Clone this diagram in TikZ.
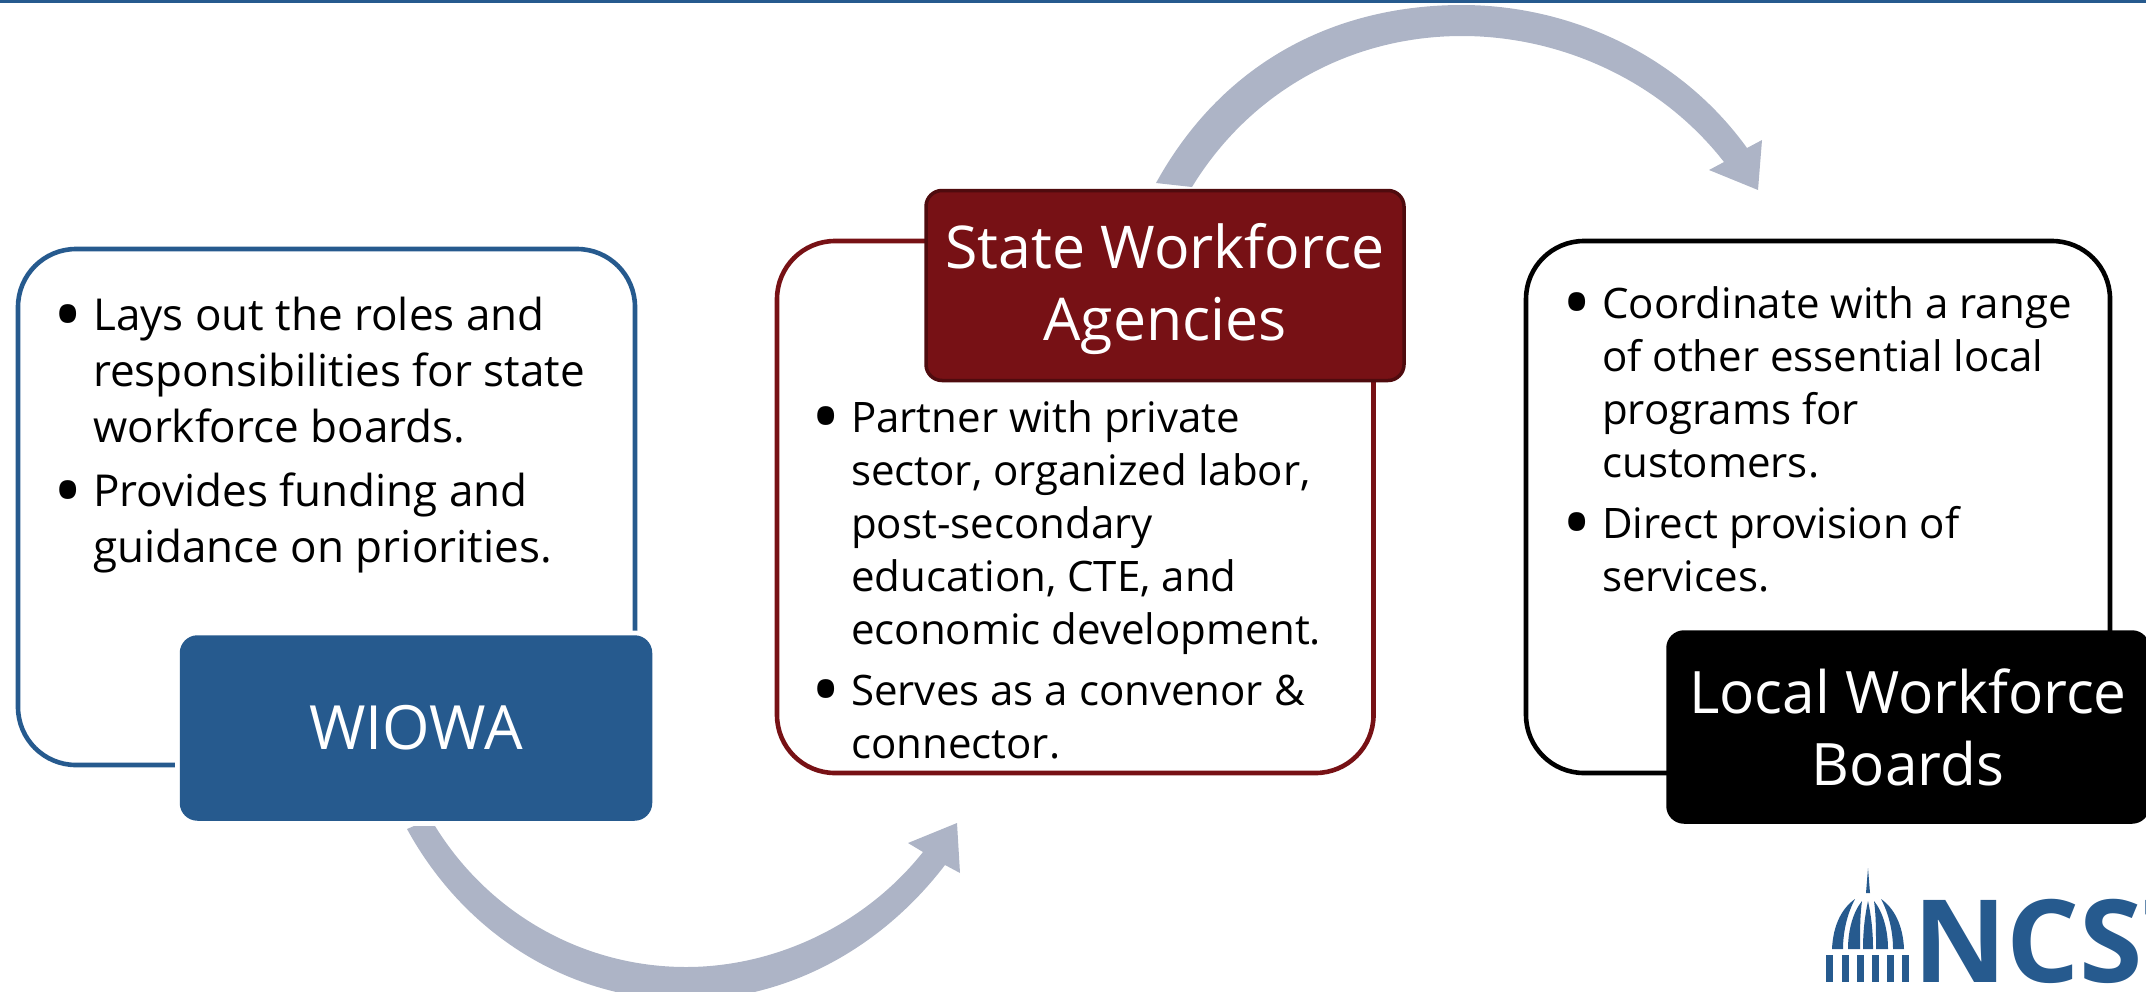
\documentclass[tikz,border=0pt]{standalone}
\usepackage{fontspec}
\setmainfont{Open Sans}
\definecolor{ncblue}{HTML}{265A8E}
\definecolor{ncred}{HTML}{771115}
\definecolor{ncdark}{HTML}{4F0B0E}
\definecolor{ncarrow}{HTML}{ADB4C6}
\newcommand{\bul}[1]{\makebox[33pt][l]{\hspace*{8pt}\makebox[0pt]{\smash{\raisebox{-12pt}{\fontsize{78}{0}\selectfont •}}}}#1}
\newcommand{\ind}[1]{\hspace*{33pt}#1}
\tikzset{
  x=1pt,y=-1pt,
  panel/.style={rounded corners=58pt,line width=4.6pt,fill=white},
  tag/.style={rounded corners=16pt,line width=3.5pt,text=white,align=center},
  gapped/.style={preaction={draw=white,line width=13pt}},
  body/.style={anchor=north west,inner sep=0pt,align=left,text=black},
  flow/.style={fill=ncarrow,draw=none}
}
\begin{document}
\begin{tikzpicture}
\useasboundingbox (0,0) rectangle (2146,991);
\clip (0,0) rectangle (2146,991);
\fill[ncblue] (0,0) rectangle (2146,2.5);
% arrows
\path[flow] (1156,183) .. controls (1225,58) and (1340,5) .. (1462,5)
  .. controls (1570,5) and (1680,55) .. (1747,148)
  -- (1762,140) -- (1758,190) -- (1709,170) -- (1724,162)
  .. controls (1660,80) and (1560,36) .. (1462,36)
  .. controls (1350,36) and (1250,92) .. (1192,187) -- cycle;
\path[flow] (407,829) -- (414,826) -- (435,826)
  .. controls (490,915) and (585,967) .. (686,967)
  .. controls (775,967) and (865,925) .. (923,852)
  -- (908,843) -- (957,823) -- (960,873) -- (945,865)
  .. controls (880,950) and (785,1000) .. (686,1000)
  .. controls (570,1000) and (465,935) .. (407,829) -- cycle;
% panels
\draw[panel,draw=ncblue] (18,249) rectangle (635,765);
\draw[panel,draw=ncred] (777,241) rectangle (1373.5,773);
\draw[panel,draw=black] (1526,241) rectangle (2110,773);
% tags
\node[tag,gapped,fill=ncblue,draw=ncblue,minimum width=469pt,minimum height=182pt,font=\fontsize{61}{72}\selectfont] (wioa) at (416,728) {WIOWA};
\node[tag,fill=ncred,draw=ncdark,minimum width=478pt,minimum height=190pt,font=\fontsize{59}{72}\selectfont] (state) at (1165,285.5) {\rule{0pt}{52pt}State Workforce\\Agencies};
\node[tag,fill=black,draw=black,minimum width=480pt,minimum height=190pt,font=\fontsize{58.5}{72}\selectfont] (local) at (1908,727) {Local Workforce\\Boards};
% texts
\node[body,font=\fontsize{44}{56}\selectfont] (t1) at (60,297) {\bul{Lays out the roles and}\\\ind{responsibilities for state}\\\ind{workforce boards.}\\[8pt]\bul{Provides funding and}\\\ind{guidance on priorities.}};
\node[body,font=\fontsize{42}{53}\selectfont] (t2) at (818,400) {\bul{Partner with private}\\\ind{sector, organized labor,}\\\ind{post-secondary}\\\ind{education, CTE, and}\\\ind{economic development.}\\[8pt]\bul{Serves as a convenor \&}\\\ind{connector.}};
\node[body,font=\fontsize{42}{53}\selectfont] (t3) at (1569,286) {\bul{Coordinate with a range}\\\ind{of other essential local}\\\ind{programs for}\\\ind{customers.}\\[8pt]\bul{Direct provision of}\\\ind{services.}};
% logo
\fill[ncblue] (1866,893) -- (1868,868) -- (1870,893) -- cycle;
\foreach \cx in {1826,1841.5,1857,1872,1887,1902}{\fill[ncblue] (\cx,955) rectangle (\cx+7,982);}
\fill[ncblue] (1863,949) .. controls (1863,930) and (1865,915) .. (1868,901) .. controls (1871,915) and (1873,930) .. (1873,949) -- cycle;
\fill[ncblue] (1848,949) .. controls (1848,930) and (1853,912) .. (1862,901) .. controls (1860,915) and (1860,930) .. (1860,949) -- cycle;
\fill[ncblue] (1888,949) .. controls (1888,930) and (1883,912) .. (1874,901) .. controls (1876,915) and (1876,930) .. (1876,949) -- cycle;
\fill[ncblue] (1832,949) .. controls (1833,925) and (1842,908) .. (1855,899) .. controls (1848,912) and (1843,930) .. (1843,949) -- cycle;
\fill[ncblue] (1904,949) .. controls (1903,925) and (1894,908) .. (1881,899) .. controls (1888,912) and (1893,930) .. (1893,949) -- cycle;
\node[anchor=base west,inner sep=0pt,text=ncblue,font=\fontsize{115}{115}\selectfont\bfseries] (logo) at (1913,982) {NCST};
\end{tikzpicture}
\end{document}
